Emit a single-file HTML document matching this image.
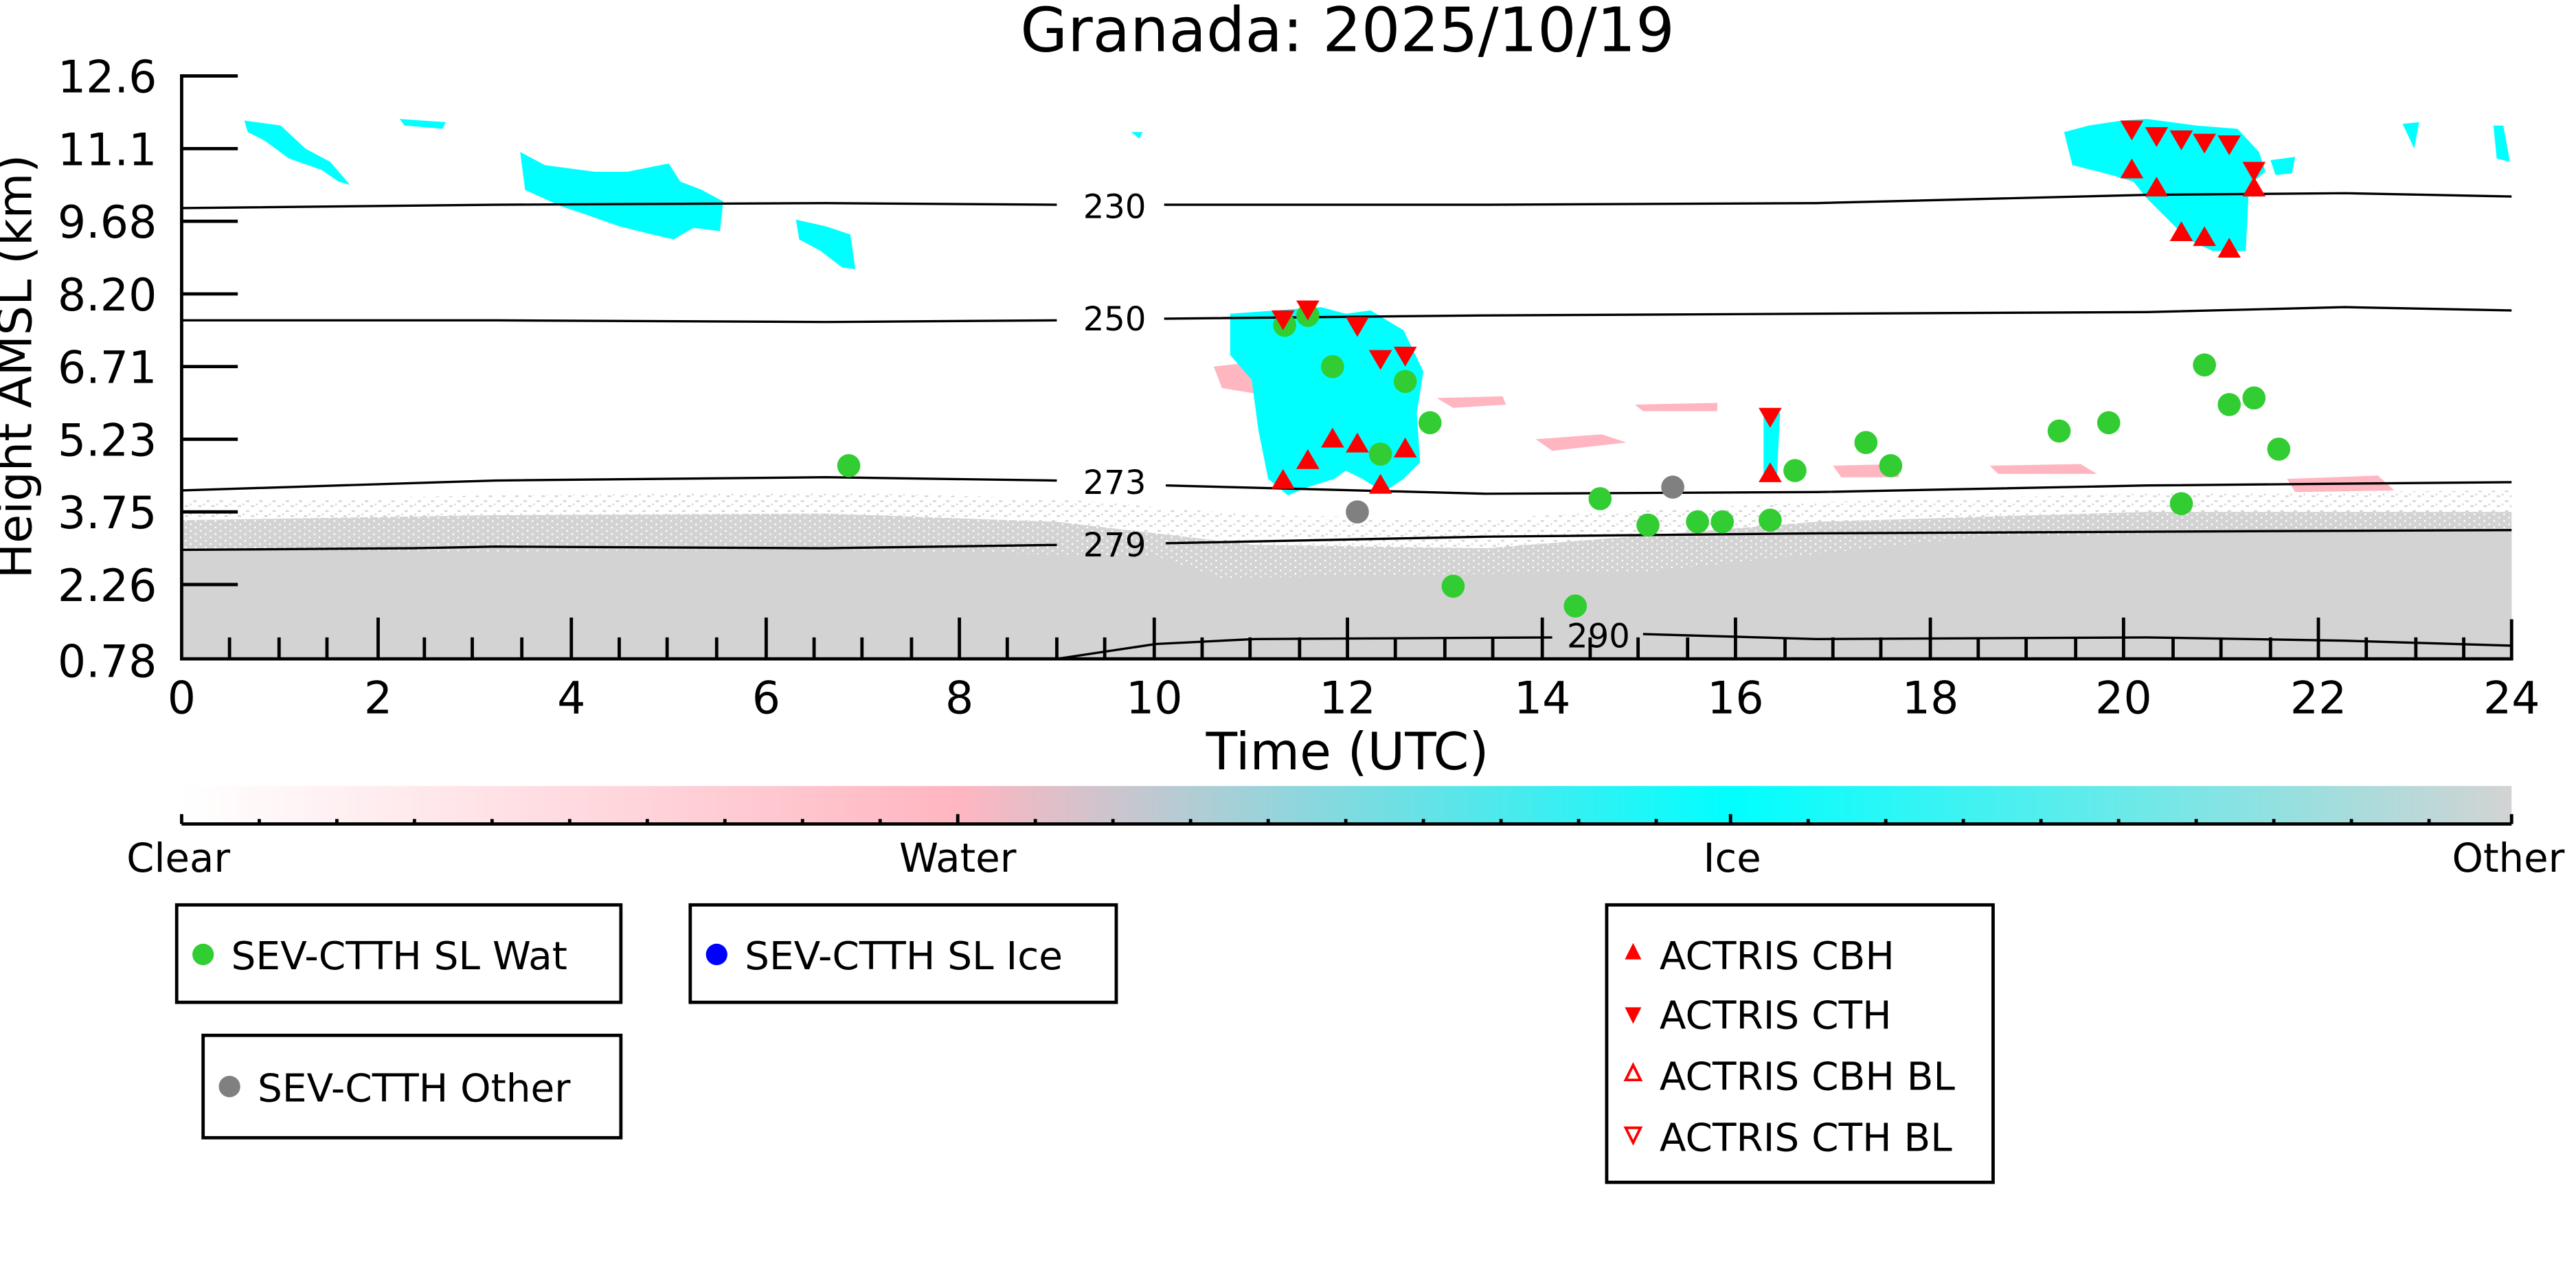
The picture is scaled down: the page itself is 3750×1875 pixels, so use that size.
<!DOCTYPE html>
<html><head><meta charset="utf-8"><style>
html,body{margin:0;padding:0;background:#fff;width:3750px;height:1875px;overflow:hidden}
svg{display:block}
text{font-family:"DejaVu Sans","Liberation Sans",sans-serif;fill:#000}
</style></head><body>
<svg width="3750" height="1875" viewBox="0 0 1560 780" xmlns="http://www.w3.org/2000/svg">
<defs>
<linearGradient id="cb" x1="0" x2="1" y1="0" y2="0">
<stop offset="0" stop-color="#ffffff"/>
<stop offset="0.333" stop-color="#ffb6c1"/>
<stop offset="0.665" stop-color="#00ffff"/>
<stop offset="1" stop-color="#d3d3d3"/>
</linearGradient>
<pattern id="noise" width="8" height="6" patternUnits="userSpaceOnUse">
<rect width="8" height="6" fill="#fff"/>
<rect x="0" y="0" width="2" height="1" fill="#d3d3d3"/>
<rect x="5" y="3" width="2" height="1" fill="#d3d3d3"/>
<rect x="3" y="5" width="1" height="1" fill="#d3d3d3"/>
</pattern>
<pattern id="noise2" width="6" height="4" patternUnits="userSpaceOnUse">
<rect width="6" height="4" fill="#d3d3d3"/>
<rect x="1" y="1" width="1" height="1" fill="#fff"/>
<rect x="4" y="3" width="1" height="1" fill="#fff"/>
</pattern>
</defs>
<text x="816" y="31" font-size="37" text-anchor="middle">Granada: 2025/10/19</text>

<!-- gray background -->
<path d="M110,303 L300,300 L500,298 L640,302 L760,312 L900,314 L1100,304 L1300,299 L1521,297 L1521,399 L110,399Z" fill="url(#noise)"/>
<path d="M110,315 L300,312 L500,311 L640,316 L760,330 L900,332 L1100,316 L1300,310 L1521,310 L1521,399 L110,399Z" fill="url(#noise2)"/>
<path d="M110,333 L300,334 L500,333 L700,337 L740,350 L1000,346 L1200,325 L1521,320 L1521,399 L110,399Z" fill="#d3d3d3"/>

<!-- pink/ice clouds -->
<g fill="#ffb6c1">
<path d="M735,222 L770,218 L770,240 L740,235Z"/>
<path d="M870,241 L910,240 L912,245 L880,247Z"/>
<path d="M930,266 L970,263 L985,268 L940,273Z"/>
<path d="M990,245 L1040,244 L1040,249 L995,249Z"/>
<path d="M1110,282 L1150,281 L1150,289 L1115,289Z"/>
<path d="M1205,282 L1260,281 L1270,287 L1210,287Z"/>
<path d="M1385,290 L1440,288 L1450,297 L1390,298Z"/>
</g>
<g fill="#00ffff">
<path d="M148,73 L170,76 L185,90 L200,98 L212,112 L205,110 L195,103 L175,96 L160,85 L150,80Z"/>
<path d="M242,72 L270,74 L268,78 L245,76Z"/>
<path d="M315,92 L330,100 L360,104 L380,104 L405,99 L412,110 L425,115 L438,122 L436,140 L420,138 L408,145 L395,142 L375,137 L355,130 L340,125 L318,115Z"/>
<path d="M482,133 L500,137 L515,142 L518,163 L510,162 L497,152 L484,145Z"/>
<path d="M745,190 L800,186 L815,190 L830,188 L850,200 L862,225 L858,250 L860,280 L850,290 L838,298 L825,290 L815,285 L808,290 L792,295 L780,300 L768,290 L762,260 L758,230 L745,215Z"/>
<path d="M1068,250 L1078,250 L1076,290 L1068,290Z"/>
<path d="M1250,80 L1265,76 L1285,73 L1300,72 L1330,76 L1355,78 L1368,92 L1372,104 L1362,112 L1360,152 L1340,152 L1325,145 L1312,132 L1300,120 L1292,110 L1275,105 L1255,100Z"/>
<path d="M1375,97 L1390,95 L1388,105 L1378,106Z"/>
<path d="M1455,75 L1465,74 L1462,90Z"/>
<path d="M1510,76 L1516,76 L1520,98 L1512,96Z"/>
<path d="M685,80 L692,80 L690,84Z"/>
</g>

<!-- contours -->
<g fill="none" stroke="#000" stroke-width="1.4">
<path d="M110,126 L300,124 L500,123 L640,124"/>
<path d="M705,124 L900,124 L1100,123 L1300,118 L1420,117 L1521,119"/>
<path d="M110,194 L300,194 L500,195 L640,194"/>
<path d="M705,193 L900,191 L1100,190 L1300,189 L1420,186 L1521,188"/>
<path d="M110,297 L300,291 L500,289 L640,291"/>
<path d="M706,294 L900,299 L1100,298 L1300,294 L1521,292"/>
<path d="M110,333 L250,332 L300,331 L500,332 L640,330"/>
<path d="M706,329 L900,325 L1100,323 L1300,322 L1521,321"/>
<path d="M640,399 L700,390 L760,387 L940,386"/>
<path d="M995,384 L1100,387 L1300,386 L1420,388 L1521,391"/>
</g>
<g font-size="20" text-anchor="middle">
<text x="675" y="132">230</text>
<text x="675" y="200">250</text>
<text x="675" y="299">273</text>
<text x="675" y="337">279</text>
<text x="968" y="392">290</text>
</g>

<!-- markers -->
<g fill="#32cd32">
<circle cx="514" cy="282" r="7"/><circle cx="778" cy="197" r="7"/><circle cx="792" cy="191" r="7"/>
<circle cx="807" cy="222" r="7"/><circle cx="836" cy="275" r="7"/><circle cx="851" cy="231" r="7"/>
<circle cx="866" cy="256" r="7"/><circle cx="880" cy="355" r="7"/><circle cx="954" cy="367" r="7"/>
<circle cx="969" cy="302" r="7"/><circle cx="998" cy="318" r="7"/><circle cx="1028" cy="316" r="7"/>
<circle cx="1043" cy="316" r="7"/><circle cx="1072" cy="315" r="7"/><circle cx="1087" cy="285" r="7"/>
<circle cx="1130" cy="268" r="7"/><circle cx="1145" cy="282" r="7"/><circle cx="1247" cy="261" r="7"/>
<circle cx="1277" cy="256" r="7"/><circle cx="1321" cy="305" r="7"/><circle cx="1335" cy="221" r="7"/>
<circle cx="1350" cy="245" r="7"/><circle cx="1365" cy="241" r="7"/><circle cx="1380" cy="272" r="7"/>
</g>
<g fill="#808080"><circle cx="822" cy="310" r="7"/><circle cx="1013" cy="295" r="7"/></g>
<g fill="#ff0000">
<path d="M777,284 l7,12 h-14z"/><path d="M792,272 l7,12 h-14z"/><path d="M807,259 l7,12 h-14z"/>
<path d="M822,262 l7,12 h-14z"/><path d="M836,287 l7,12 h-14z"/><path d="M851,265 l7,12 h-14z"/>
<path d="M1072,280 l7,12 h-14z"/><path d="M1291,96 l7,12 h-14z"/><path d="M1306,107 l7,12 h-14z"/>
<path d="M1321,134 l7,12 h-14z"/><path d="M1335,137 l7,12 h-14z"/><path d="M1350,144 l7,12 h-14z"/>
<path d="M1365,107 l7,12 h-14z"/>
</g>
<g fill="#ff0000">
<path d="M770,188 h14 l-7,12z"/><path d="M785,182 h14 l-7,12z"/><path d="M815,192 h14 l-7,12z"/>
<path d="M829,212 h14 l-7,12z"/><path d="M844,210 h14 l-7,12z"/><path d="M1065,247 h14 l-7,12z"/>
<path d="M1284,73 h14 l-7,12z"/><path d="M1299,77 h14 l-7,12z"/><path d="M1314,79 h14 l-7,12z"/>
<path d="M1328,81 h14 l-7,12z"/><path d="M1343,82 h14 l-7,12z"/><path d="M1358,98 h14 l-7,12z"/>
</g>

<!-- axes -->
<g stroke="#000" stroke-width="2" fill="none">
<path d="M110,45 V399 H1521 V375"/>
<path d="M110,46 h34 M110,90 h34 M110,134 h34 M110,178 h34 M110,222 h34 M110,266 h34 M110,310 h34 M110,354 h34"/>
<path d="M229,399 v-25 M346,399 v-25 M464,399 v-25 M581,399 v-25 M699,399 v-25 M816,399 v-25 M934,399 v-25 M1051,399 v-25 M1169,399 v-25 M1286,399 v-25 M1404,399 v-25"/>
<path d="M139,399 v-13 M169,399 v-13 M198,399 v-13 M257,399 v-13 M286,399 v-13 M316,399 v-13 M375,399 v-13 M404,399 v-13 M434,399 v-13 M493,399 v-13 M522,399 v-13 M552,399 v-13 M610,399 v-13 M640,399 v-13 M669,399 v-13 M728,399 v-13 M757,399 v-13 M787,399 v-13 M845,399 v-13 M875,399 v-13 M904,399 v-13 M963,399 v-13 M992,399 v-13 M1022,399 v-13 M1081,399 v-13 M1110,399 v-13 M1139,399 v-13 M1198,399 v-13 M1227,399 v-13 M1257,399 v-13 M1316,399 v-13 M1345,399 v-13 M1375,399 v-13 M1433,399 v-13 M1463,399 v-13 M1492,399 v-13"/>
</g>
<g font-size="27" text-anchor="end">
<text x="95" y="56">12.6</text><text x="95" y="100">11.1</text><text x="95" y="144">9.68</text>
<text x="95" y="188">8.20</text><text x="95" y="232">6.71</text><text x="95" y="276">5.23</text>
<text x="95" y="320">3.75</text><text x="95" y="364">2.26</text><text x="95" y="410">0.78</text>
</g>
<g font-size="27" text-anchor="middle">
<text x="110" y="432">0</text><text x="229" y="432">2</text><text x="346" y="432">4</text>
<text x="464" y="432">6</text><text x="581" y="432">8</text><text x="699" y="432">10</text>
<text x="816" y="432">12</text><text x="934" y="432">14</text><text x="1051" y="432">16</text>
<text x="1169" y="432">18</text><text x="1286" y="432">20</text><text x="1404" y="432">22</text>
<text x="1521" y="432">24</text>
<text x="816" y="466" font-size="31">Time (UTC)</text>
<text transform="translate(19,222) rotate(-90)" font-size="28.5">Height AMSL (km)</text>
</g>

<!-- colorbar -->
<rect x="110" y="476" width="1411" height="23" fill="url(#cb)"/>
<g stroke="#000" stroke-width="2" fill="none">
<path d="M110,499 H1521"/>
<path d="M110,499 v-6 M580,499 v-6 M1048,499 v-6 M1521,499 v-6"/>
<path d="M157,499 v-3 M204,499 v-3 M251,499 v-3 M298,499 v-3 M345,499 v-3 M392,499 v-3 M439,499 v-3 M486,499 v-3 M533,499 v-3 M627,499 v-3 M674,499 v-3 M721,499 v-3 M768,499 v-3 M815,499 v-3 M862,499 v-3 M909,499 v-3 M956,499 v-3 M1003,499 v-3 M1095,499 v-3 M1142,499 v-3 M1189,499 v-3 M1236,499 v-3 M1283,499 v-3 M1330,499 v-3 M1377,499 v-3 M1424,499 v-3 M1471,499 v-3"/>
</g>
<g font-size="24" text-anchor="middle">
<text x="108" y="528">Clear</text><text x="580" y="528">Water</text>
<text x="1049" y="528">Ice</text><text x="1519" y="528">Other</text>
</g>

<!-- legends -->
<g stroke="#000" stroke-width="2" fill="#fff">
<rect x="107" y="548" width="269" height="59"/>
<rect x="418" y="548" width="258" height="59"/>
<rect x="123" y="627" width="253" height="62"/>
<rect x="973" y="548" width="234" height="168"/>
</g>
<g font-size="23.5">
<circle cx="123" cy="578" r="6.5" fill="#32cd32"/><text x="140" y="587">SEV-CTTH SL Wat</text>
<circle cx="434" cy="578" r="6.5" fill="#0000ff"/><text x="451" y="587">SEV-CTTH SL Ice</text>
<circle cx="139" cy="658" r="6.5" fill="#808080"/><text x="156" y="667">SEV-CTTH Other</text>
<path d="M989,571 l5,10 h-10z" fill="#f00"/><text x="1005" y="587">ACTRIS CBH</text>
<path d="M984,610 h10 l-5,10z" fill="#f00"/><text x="1005" y="623">ACTRIS CTH</text>
<path d="M989,645 l4.5,9 h-9z" fill="none" stroke="#f00" stroke-width="1.6"/><text x="1005" y="660">ACTRIS CBH BL</text>
<path d="M984.5,683 h9 l-4.5,9z" fill="none" stroke="#f00" stroke-width="1.6"/><text x="1005" y="697">ACTRIS CTH BL</text>
</g>
</svg>
</body></html>
